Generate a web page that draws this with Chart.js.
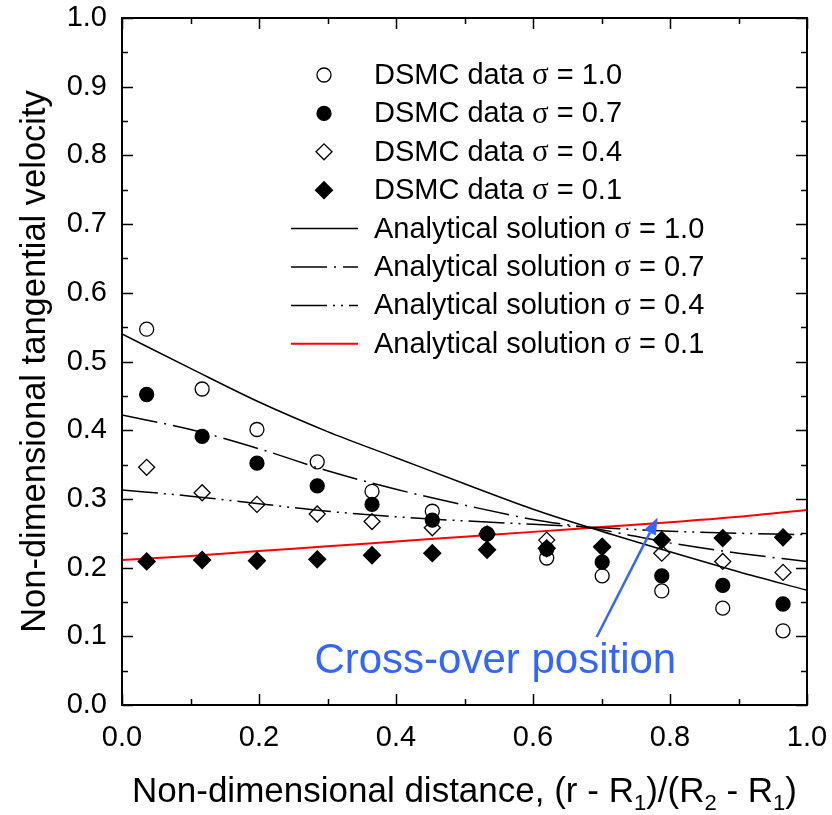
<!DOCTYPE html>
<html lang="en">
<head>
    <meta charset="UTF-8">
    <title>Tangential velocity profiles</title>
    <style>
        html, body {
            margin: 0;
            padding: 0;
            background: #fff;
        }

        .chart-box {
            width: 832px;
            height: 815px;
        }
    </style>
</head>
<body>
    <div class="chart-box">
        <canvas id="velocityChart" width="832" height="815"></canvas>
    </div>
    <script src="https://cdn.jsdelivr.net/npm/chart.js"></script>
    <script>
        // DSMC sample positions (non-dimensional distance)
        const xDsmc = [0.036, 0.117, 0.197, 0.285, 0.365, 0.453, 0.533, 0.620, 0.701, 0.788, 0.877, 0.965];

        // DSMC tangential velocity for each accommodation coefficient
        const dsmcSigma10 = [0.547, 0.460, 0.401, 0.354, 0.311, 0.282, 0.249, 0.214, 0.188, 0.166, 0.141, 0.108];
        const dsmcSigma07 = [0.452, 0.391, 0.352, 0.319, 0.292, 0.269, 0.249, 0.227, 0.208, 0.188, 0.174, 0.147];
        const dsmcSigma04 = [0.346, 0.309, 0.292, 0.278, 0.267, 0.258, 0.249, 0.240, 0.231, 0.221, 0.209, 0.193];
        const dsmcSigma01 = [0.209, 0.211, 0.210, 0.212, 0.218, 0.221, 0.226, 0.228, 0.230, 0.240, 0.243, 0.244];

        // Analytical solution sampled along the gap
        const xAnalytic = [0.0, 0.1, 0.2, 0.3, 0.4, 0.5, 0.6, 0.7, 0.8, 0.9, 1.0];
        const analyticSigma10 = [0.540, 0.490, 0.441, 0.398, 0.360, 0.322, 0.285, 0.253, 0.223, 0.194, 0.167];
        const analyticSigma07 = [0.422, 0.401, 0.373, 0.341, 0.314, 0.291, 0.270, 0.255, 0.236, 0.221, 0.209];
        const analyticSigma04 = [0.313, 0.304, 0.293, 0.282, 0.274, 0.268, 0.263, 0.258, 0.253, 0.250, 0.248];
        const analyticSigma01 = [0.211, 0.217, 0.224, 0.231, 0.238, 0.245, 0.252, 0.259, 0.266, 0.274, 0.284];

        // axis ticks
        const xMajorTicks = [0.0, 0.2, 0.4, 0.6, 0.8, 1.0];
        const xMinorTicks = [0.1, 0.3, 0.5, 0.7, 0.9];
        const yMajorTicks = [0.0, 0.1, 0.2, 0.3, 0.4, 0.5, 0.6, 0.7, 0.8, 0.9, 1.0];
        const yMinorTicks = [0.05, 0.15, 0.25, 0.35, 0.45, 0.55, 0.65, 0.75, 0.85, 0.95];

        // arrow pointing at the cross-over (tail, tip) and its caption
        const arrowTail = { x: 0.693, y: 0.099 };
        const arrowTip = { x: 0.782, y: 0.273 };
        const captionAt = { x: 0.545, y: 0.047 };

        const SANS = "'Liberation Sans', Arial, sans-serif";
        const SERIF = "'Liberation Serif', 'Times New Roman', serif";
        const BLUE = '#3366ff';

        const toPoints = (xs, ys) => xs.map((x, i) => ({ x: x, y: ys[i] }));

        function markerSet(label, ys, style, radius, filled) {
            return {
                type: 'scatter',
                label: label,
                data: toPoints(xDsmc, ys),
                pointStyle: style,
                pointRadius: radius,
                pointBorderWidth: 1.3,
                pointBorderColor: '#000',
                pointBackgroundColor: filled ? '#000' : 'rgba(0,0,0,0)',
                showLine: false,
            };
        }

        function curveSet(label, ys, color, width, dash) {
            return {
                type: 'line',
                label: label,
                data: toPoints(xAnalytic, ys),
                borderColor: color,
                borderWidth: width,
                borderDash: dash,
                pointRadius: 0,
                cubicInterpolationMode: 'monotone',
                fill: false,
            };
        }

        const datasets = [
            markerSet('DSMC data σ = 1.0', dsmcSigma10, 'circle', 7, false),
            markerSet('DSMC data σ = 0.7', dsmcSigma07, 'circle', 7, true),
            markerSet('DSMC data σ = 0.4', dsmcSigma04, 'rectRot', 8, false),
            markerSet('DSMC data σ = 0.1', dsmcSigma01, 'rectRot', 8.5, true),
            curveSet('Analytical solution σ = 1.0', analyticSigma10, '#000', 1.5, []),
            curveSet('Analytical solution σ = 0.7', analyticSigma07, '#000', 1.5, [36, 7, 2, 7]),
            curveSet('Analytical solution σ = 0.4', analyticSigma04, '#000', 1.5, [36, 6, 2, 6, 2, 6]),
            curveSet('Analytical solution σ = 0.1', analyticSigma01, '#ff0000', 2, []),
        ];

        // boxed frame with inward major/minor ticks on all four sides
        const frameTicks = {
            id: 'frameTicks',
            afterDatasetsDraw(chart) {
                const { ctx, chartArea: a, scales } = chart;
                const xs = scales.x, ys = scales.y;
                ctx.save();
                ctx.strokeStyle = '#000';
                ctx.lineWidth = 2;
                ctx.strokeRect(a.left, a.top, a.right - a.left, a.bottom - a.top);
                ctx.lineWidth = 1.5;
                ctx.beginPath();
                const xTick = (v, len) => {
                    const px = Math.round(xs.getPixelForValue(v)) + 0.5;
                    ctx.moveTo(px, a.bottom); ctx.lineTo(px, a.bottom - len);
                    ctx.moveTo(px, a.top); ctx.lineTo(px, a.top + len);
                };
                const yTick = (v, len) => {
                    const py = Math.round(ys.getPixelForValue(v)) + 0.5;
                    ctx.moveTo(a.left, py); ctx.lineTo(a.left + len, py);
                    ctx.moveTo(a.right, py); ctx.lineTo(a.right - len, py);
                };
                xMajorTicks.forEach(v => xTick(v, 11));
                xMinorTicks.forEach(v => xTick(v, 6));
                yMajorTicks.forEach(v => yTick(v, 11));
                yMinorTicks.forEach(v => yTick(v, 6));
                ctx.stroke();
                ctx.restore();
            }
        };

        // text with σ set in a serif face, like a symbol font
        function drawSigmaText(ctx, text, x, y, size) {
            const parts = text.split('σ');
            let cx = x;
            parts.forEach((part, i) => {
                ctx.font = size + 'px ' + SANS;
                ctx.fillText(part, cx, y);
                cx += ctx.measureText(part).width;
                if (i < parts.length - 1) {
                    ctx.font = (size + 2) + 'px ' + SERIF;
                    ctx.fillText('σ', cx, y);
                    cx += ctx.measureText('σ').width;
                }
            });
        }

        const legendBox = {
            id: 'legendBox',
            afterDraw(chart) {
                const ctx = chart.ctx;
                const markX = 324, lineX0 = 291, lineX1 = 358, textX = 374;
                const rowY0 = 75, rowGap = 38.4;
                ctx.save();
                ctx.textBaseline = 'middle';
                ctx.fillStyle = '#000';
                chart.data.datasets.forEach((ds, i) => {
                    const y = rowY0 + i * rowGap;
                    if (ds.type === 'scatter') {
                        ctx.fillStyle = ds.pointBackgroundColor;
                        ctx.strokeStyle = ds.pointBorderColor;
                        ctx.lineWidth = ds.pointBorderWidth;
                        Chart.helpers.drawPoint(ctx, {
                            pointStyle: ds.pointStyle,
                            radius: ds.pointRadius,
                            rotation: 0,
                            borderWidth: ds.pointBorderWidth,
                        }, markX, y);
                    } else {
                        ctx.strokeStyle = ds.borderColor;
                        ctx.lineWidth = ds.borderWidth;
                        ctx.setLineDash(ds.borderDash);
                        ctx.beginPath();
                        ctx.moveTo(lineX0, y);
                        ctx.lineTo(lineX1, y);
                        ctx.stroke();
                        ctx.setLineDash([]);
                    }
                    ctx.fillStyle = '#000';
                    drawSigmaText(ctx, ds.label, textX, y + 1, 29);
                });
                ctx.restore();
            }
        };

        // x-axis title with subscripts, plus the cross-over arrow and caption
        const extras = {
            id: 'extras',
            afterDraw(chart) {
                const { ctx, chartArea: a, scales } = chart;
                const xs = scales.x, ys = scales.y;
                ctx.save();

                const parts = [
                    ['Non-dimensional distance, (r - R', false],
                    ['1', true],
                    [')/(R', false],
                    ['2', true],
                    [' - R', false],
                    ['1', true],
                    [')', false],
                ];
                const big = '35px ' + SANS, small = '22px ' + SANS;
                let total = 0;
                parts.forEach(([t, sub]) => {
                    ctx.font = sub ? small : big;
                    total += ctx.measureText(t).width;
                });
                let cx = (a.left + a.right) / 2 - total / 2;
                const baseY = 802;
                ctx.fillStyle = '#000';
                ctx.textBaseline = 'alphabetic';
                parts.forEach(([t, sub]) => {
                    ctx.font = sub ? small : big;
                    ctx.fillText(t, cx, sub ? baseY + 8 : baseY);
                    cx += ctx.measureText(t).width;
                });

                // arrow
                const x0 = xs.getPixelForValue(arrowTail.x), y0 = ys.getPixelForValue(arrowTail.y);
                const x1 = xs.getPixelForValue(arrowTip.x), y1 = ys.getPixelForValue(arrowTip.y);
                const ang = Math.atan2(y1 - y0, x1 - x0);
                const headLen = 17, headHalf = 6.5;
                const bx = x1 - headLen * Math.cos(ang), by = y1 - headLen * Math.sin(ang);
                ctx.strokeStyle = BLUE;
                ctx.fillStyle = BLUE;
                ctx.lineWidth = 2.5;
                ctx.beginPath();
                ctx.moveTo(x0, y0);
                ctx.lineTo(bx, by);
                ctx.stroke();
                ctx.beginPath();
                ctx.moveTo(x1, y1);
                ctx.lineTo(bx + headHalf * Math.sin(ang), by - headHalf * Math.cos(ang));
                ctx.lineTo(bx - headHalf * Math.sin(ang), by + headHalf * Math.cos(ang));
                ctx.closePath();
                ctx.fill();

                ctx.font = '42px ' + SANS;
                ctx.textAlign = 'center';
                ctx.fillText('Cross-over position', xs.getPixelForValue(captionAt.x), ys.getPixelForValue(captionAt.y));
                ctx.restore();
            }
        };

        Chart.defaults.font.family = SANS;
        Chart.defaults.font.size = 29;
        Chart.defaults.color = '#000';

        // keep the plot box fixed: drop the edge padding Chart.js reserves for tick labels
        function noEdgePadding(scale) {
            scale.paddingLeft = 0;
            scale.paddingRight = 0;
            scale.paddingTop = 0;
            scale.paddingBottom = 0;
        }

        const velocityChart = new Chart(document.getElementById('velocityChart'), {
            data: { datasets: datasets },
            options: {
                responsive: false,
                animation: false,
                events: [],
                layout: {
                    padding: { left: 0, top: 18, right: 25, bottom: 0 },
                },
                plugins: {
                    legend: { display: false },
                    tooltip: { enabled: false },
                },
                scales: {
                    x: {
                        type: 'linear',
                        min: 0,
                        max: 1,
                        grid: { display: false, drawTicks: false },
                        border: { display: false },
                        ticks: {
                            stepSize: 0.2,
                            padding: 16,
                            maxRotation: 0,
                            callback: v => v.toFixed(1),
                        },
                        afterFit: scale => { scale.height = 110; noEdgePadding(scale); },
                    },
                    y: {
                        type: 'linear',
                        min: 0,
                        max: 1,
                        grid: { display: false, drawTicks: false },
                        border: { display: false },
                        ticks: {
                            stepSize: 0.1,
                            padding: 15,
                            callback: v => v.toFixed(1),
                        },
                        title: {
                            display: true,
                            text: 'Non-dimensional tangential velocity',
                            font: { size: 34.5 },
                            padding: { top: 15, bottom: 0 },
                        },
                        afterFit: scale => { scale.width = 122; noEdgePadding(scale); },
                    },
                },
            },
            plugins: [frameTicks, legendBox, extras],
        });
    </script>
</body>
</html>
